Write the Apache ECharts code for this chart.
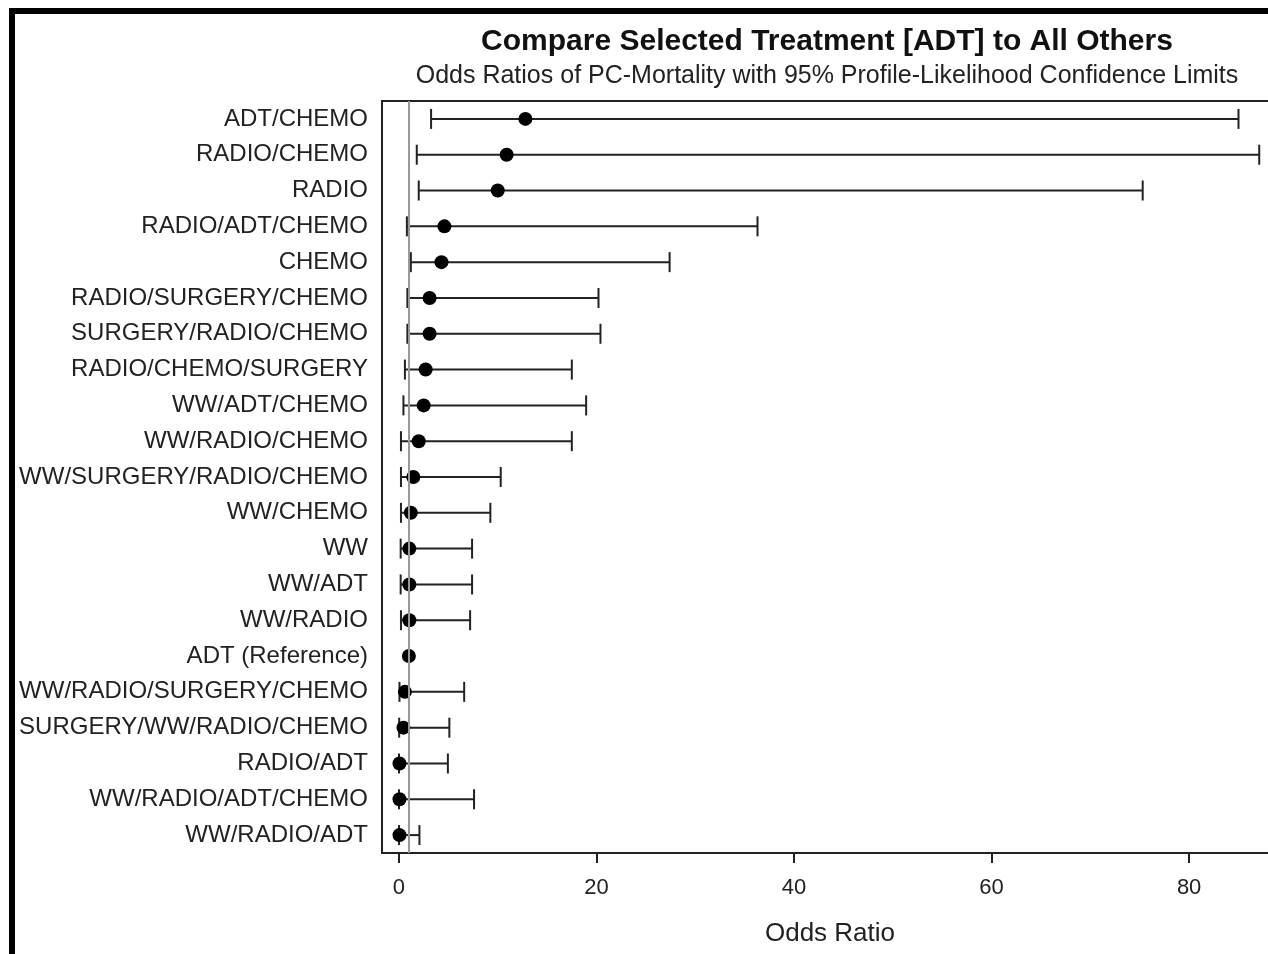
<!DOCTYPE html>
<html lang="en">

<head>
    <meta charset="UTF-8">
    <title>Odds Ratios</title>
    <script src="https://cdn.jsdelivr.net/npm/echarts@6/dist/echarts.min.js"></script>
    <style>
        html, body { margin: 0; padding: 0; background: #fff; }
        #chart { width: 1268px; height: 954px; }
    </style>
</head>

<body>
    <div id="chart"></div>
</body>
<script>
    // treatments, top to bottom
    var categories = [
        'ADT/CHEMO', 'RADIO/CHEMO', 'RADIO', 'RADIO/ADT/CHEMO', 'CHEMO',
        'RADIO/SURGERY/CHEMO', 'SURGERY/RADIO/CHEMO', 'RADIO/CHEMO/SURGERY',
        'WW/ADT/CHEMO', 'WW/RADIO/CHEMO', 'WW/SURGERY/RADIO/CHEMO', 'WW/CHEMO',
        'WW', 'WW/ADT', 'WW/RADIO', 'ADT (Reference)', 'WW/RADIO/SURGERY/CHEMO',
        'SURGERY/WW/RADIO/CHEMO', 'RADIO/ADT', 'WW/RADIO/ADT/CHEMO', 'WW/RADIO/ADT'
    ];
    var estimate = [12.8, 10.9, 10.0, 4.6, 4.3, 3.1, 3.1, 2.7, 2.5, 2.0, 1.45, 1.2, 1.05, 1.05, 1.05, 1.0, 0.6, 0.45, 0.05, 0.05, 0.05];
    var lower = [3.25, 1.8, 2.0, 0.8, 1.2, 0.85, 0.85, 0.6, 0.45, 0.2, 0.2, 0.2, 0.17, 0.17, 0.2, null, 0.05, 0.02, 0.0, 0.0, 0.0];
    var upper = [85.0, 87.1, 75.3, 36.3, 27.4, 20.2, 20.4, 17.5, 18.95, 17.5, 10.3, 9.25, 7.4, 7.4, 7.2, null, 6.6, 5.1, 4.95, 7.6, 2.07];
    var ticks = [0, 20, 40, 60, 80];
    var refValue = 1;

    var font = "'Liberation Sans', Arial, sans-serif";
    var ink = '#222';

    var ciData = [];
    var pointData = [];
    for (var i = 0; i < categories.length; i++) {
        if (lower[i] != null) ciData.push([i, lower[i], upper[i]]);
        pointData.push([estimate[i], categories[i]]);
    }

    function renderCI(params, api) {
        var cat = api.value(0);
        var a = api.coord([api.value(1), cat]);
        var b = api.coord([api.value(2), cat]);
        var h = 10;
        var st = { stroke: ink, lineWidth: 2 };
        return {
            type: 'group',
            children: [
                { type: 'line', shape: { x1: a[0], y1: a[1], x2: b[0], y2: b[1] }, style: st },
                { type: 'line', shape: { x1: a[0], y1: a[1] - h, x2: a[0], y2: a[1] + h }, style: st },
                { type: 'line', shape: { x1: b[0], y1: b[1] - h, x2: b[0], y2: b[1] + h }, style: st }
            ]
        };
    }

    var my = echarts.init(document.getElementById('chart'));

    var option = {
        backgroundColor: '#fff',
        animation: false,
        title: [
            {
                text: 'Compare Selected Treatment [ADT] to All Others',
                left: 827, top: 27, textAlign: 'center', padding: 0,
                textStyle: { fontSize: 30, fontWeight: 'bold', color: '#111', fontFamily: font }
            },
            {
                text: 'Odds Ratios of PC-Mortality with 95% Profile-Likelihood Confidence Limits',
                left: 827, top: 64, textAlign: 'center', padding: 0,
                textStyle: { fontSize: 25, fontWeight: 'normal', color: ink, fontFamily: font }
            }
        ],
        graphic: [
            {
                type: 'rect',
                shape: { x: 12, y: 11, width: 1320, height: 1000 },
                style: { fill: 'none', stroke: '#000', lineWidth: 6 },
                silent: true
            }
        ],
        grid: {
            left: 382, top: 101, width: 896, height: 752,
            outerBoundsMode: 'none',
            containLabel: false,
            show: true, borderColor: ink, borderWidth: 2, backgroundColor: 'transparent'
        },
        xAxis: {
            type: 'value',
            min: -1.72,
            max: 89,
            axisLine: { show: true, lineStyle: { color: ink, width: 2 } },
            axisTick: { show: true, customValues: ticks, length: 10, lineStyle: { color: ink, width: 2 } },
            axisLabel: { customValues: ticks, fontSize: 22, margin: 24, color: ink, fontFamily: font },
            splitLine: { show: false },
            name: 'Odds Ratio',
            nameLocation: 'middle',
            nameGap: 68,
            nameTextStyle: { fontSize: 26, color: ink, fontFamily: font }
        },
        yAxis: {
            type: 'category',
            inverse: true,
            data: categories,
            axisLine: { show: false },
            axisTick: { show: false },
            axisLabel: { fontSize: 24, margin: 14, color: ink, fontFamily: font },
            splitLine: { show: false }
        },
        series: [
            {
                type: 'scatter',
                data: [],
                z: 1,
                silent: true,
                markLine: {
                    symbol: 'none',
                    silent: true,
                    label: { show: false },
                    lineStyle: { color: '#999', width: 2, type: 'solid' },
                    data: [{ xAxis: refValue }]
                }
            },
            {
                type: 'custom',
                z: 2,
                renderItem: renderCI,
                encode: { x: [1, 2], y: 0 },
                data: ciData
            },
            {
                type: 'scatter',
                z: 3,
                symbol: 'circle',
                symbolSize: 14,
                itemStyle: { color: '#000', opacity: 1 },
                data: pointData
            }
        ]
    };

    my.setOption(option);
</script>

</html>
